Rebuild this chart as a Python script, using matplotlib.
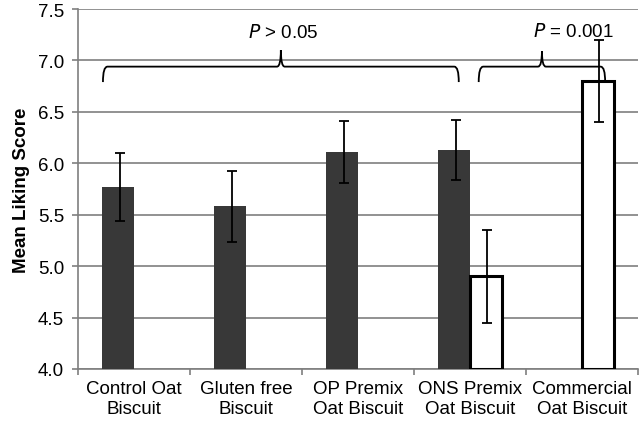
import numpy as np
import matplotlib
matplotlib.use("Agg")
import matplotlib.pyplot as plt
from matplotlib.path import Path
from matplotlib.patches import PathPatch

plt.rcParams['font.family'] = ['Liberation Sans', 'DejaVu Sans']

categories = ["Control Oat\nBiscuit", "Gluten free\nBiscuit", "OP Premix\nOat Biscuit",
              "ONS Premix\nOat Biscuit", "Commercial\nOat Biscuit"]
dark_means = [5.77, 5.58, 6.11, 6.13, np.nan]
dark_err = [0.33, 0.35, 0.30, 0.29, np.nan]
white_means = [np.nan, np.nan, np.nan, 4.90, 6.80]
white_err = [np.nan, np.nan, np.nan, 0.45, 0.40]
ymin, ymax = 4.0, 7.5


def brace(ax, x0, x1, yb, yh, yp, dx=0.04, dm=0.035):
    xm = (x0 + x1) / 2
    verts = [(x0, yb), (x0, yh), (x0 + dx, yh),
             (xm - dm, yh), (xm, yh), (xm, yp),
             (xm, yh), (xm + dm, yh),
             (x1 - dx, yh), (x1, yh), (x1, yb)]
    codes = [Path.MOVETO, Path.CURVE3, Path.CURVE3,
             Path.LINETO, Path.CURVE3, Path.CURVE3,
             Path.CURVE3, Path.CURVE3,
             Path.LINETO, Path.CURVE3, Path.CURVE3]
    ax.add_patch(PathPatch(Path(verts, codes), fill=False, lw=1.3,
                           edgecolor='black', zorder=5))


fig = plt.figure(figsize=(6.4, 4.27), dpi=100)
ax = fig.add_axes([0.122, 0.1335, 0.875, 0.843])

x = np.arange(len(categories))
w = 0.285
ax.bar(x - w / 2, np.array(dark_means) - ymin, w, bottom=ymin, color='#383838',
       zorder=3)
ax.bar(x + w / 2, np.array(white_means) - ymin, w, bottom=ymin, color='white',
       edgecolor='black', linewidth=2.2, zorder=3)
ax.errorbar(x - w / 2 + 0.02, dark_means, yerr=dark_err, fmt='none', ecolor='black',
            elinewidth=1.3, capsize=3.5, capthick=1.3, zorder=4)
ax.errorbar(x + w / 2 + 0.005, white_means, yerr=white_err, fmt='none', ecolor='black',
            elinewidth=1.3, capsize=3.5, capthick=1.3, zorder=4)

brace(ax, -0.278, 2.899, 6.79, 6.94, 7.10)
brace(ax, 3.077, 4.206, 6.79, 6.94, 7.09)
ax.text(1.33, 7.28, r"$P$ > 0.05", ha='center', va='center', fontsize=13.5)
ax.text(3.92, 7.29, r"$P$ = 0.001", ha='center', va='center', fontsize=13.5)

ax.set_xlim(-0.5, len(categories) - 0.5)
ax.set_ylim(ymin, ymax)
ax.set_yticks(np.arange(4.0, 7.51, 0.5))
ax.set_yticklabels([f"{v:.1f}" for v in np.arange(4.0, 7.51, 0.5)], fontsize=13.5)
ax.set_xticks(np.arange(-0.5, len(categories)))
ax.set_xticklabels([])
ax.set_xticks(x, minor=True)
ax.set_xticklabels(categories, minor=True, fontsize=13.5)
ax.tick_params(axis='x', which='minor', length=0, pad=8)
ax.tick_params(axis='x', which='major', length=4, width=1.2, color='#7f7f7f')
ax.tick_params(axis='y', length=4, width=1.2, color='#7f7f7f', pad=6)
ax.grid(axis='y', color='#7f7f7f', linewidth=1.2, zorder=0)
ax.set_axisbelow(True)
for s in ['top', 'right']:
    ax.spines[s].set_visible(False)
for s in ['left', 'bottom']:
    ax.spines[s].set_color('#7f7f7f')
    ax.spines[s].set_linewidth(1.2)
ax.set_ylabel("Mean Liking Score", fontsize=13.5, fontweight='bold', labelpad=6)

fig.savefig("out.png", dpi=100)
